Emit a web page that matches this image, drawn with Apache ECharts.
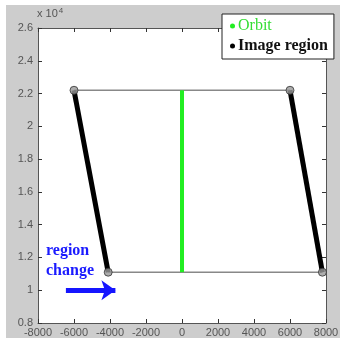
<!DOCTYPE html>
<html>
<head>
<meta charset="utf-8">
<script src="https://cdn.jsdelivr.net/npm/echarts@6/dist/echarts.min.js"></script>
<style>
  html, body { margin: 0; padding: 0; background: #fff; }
  #chart { width: 345px; height: 342px; }
</style>
</head>
<body>
<div id="chart"></div>
<script>
var myChart = echarts.init(document.getElementById('chart'));

// data
var orbit = [[0, 22200], [0, 11100]];
var imgLeft = [[-6000, 22200], [-4100, 11100]];
var imgRight = [[6000, 22200], [7800, 11100]];
var topEdge = [[-6000, 22200], [6000, 22200]];
var bottomEdge = [[-4100, 11100], [7800, 11100]];
var corners = [[-6000, 22200], [6000, 22200], [-4100, 11100], [7800, 11100]];
var arrow = [[-6450, 10000], [-3700, 10000]];
var xTicks = [-8000, 8000, 2000];
var yTicks = [8000, 26000, 2000];

var tickColor = '#333';
var labelStyle = { color: '#555', fontSize: 11, fontFamily: 'Liberation Sans' };

function axisBase(range) {
    return {
        type: 'value',
        min: range[0], max: range[1], interval: range[2],
        axisLine: { show: true, onZero: false, lineStyle: { color: '#555', width: 1 } },
        // negative length points the ticks into the plot
        axisTick: { show: true, inside: false, length: -4, lineStyle: { color: tickColor, width: 1 } },
        splitLine: { show: false }
    };
}

var xBottom = axisBase(xTicks);
xBottom.axisLabel = Object.assign({ margin: 4, formatter: function (v) { return String(v); } }, labelStyle);
var xTop = axisBase(xTicks);
xTop.position = 'top';
xTop.axisLabel = { show: false };
var yLeft = axisBase(yTicks);
yLeft.axisLabel = Object.assign({
    margin: 5,
    formatter: function (v) { return String(Math.round(v / 1000) / 10); }
}, labelStyle);
var yRight = axisBase(yTicks);
yRight.position = 'right';
yRight.axisLabel = { show: false };

var frameGray = '#cdcdcd';

option = {
    backgroundColor: '#fff',
    animation: false,
    grid: { left: 38, right: 19, top: 28, bottom: 19 },
    xAxis: [xBottom, xTop],
    yAxis: [yLeft, yRight],
    legend: {
        orient: 'vertical',
        left: 222, top: 14,
        width: 115,
        backgroundColor: '#fff',
        borderColor: '#222',
        borderWidth: 1,
        borderRadius: 0,
        padding: [4, 6, 5, 8],
        itemGap: 4,
        itemWidth: 5, itemHeight: 5,
        icon: 'circle',
        z: 20,
        data: [
            { name: 'Orbit', textStyle: { color: '#33dd33' } },
            { name: 'Image region', textStyle: { color: '#111', fontWeight: 'bold' } }
        ],
        textStyle: { fontFamily: 'Liberation Serif', fontSize: 16, padding: [0, 0, 0, -2] }
    },
    graphic: [
        // gray figure frame around the white plot area
        { type: 'rect', z: -10, shape: { x: 6, y: 5, width: 334, height: 23 }, style: { fill: frameGray } },
        { type: 'rect', z: -10, shape: { x: 6, y: 323, width: 334, height: 15 }, style: { fill: frameGray } },
        { type: 'rect', z: -10, shape: { x: 6, y: 28, width: 32, height: 295 }, style: { fill: frameGray } },
        { type: 'rect', z: -10, shape: { x: 326, y: 28, width: 14, height: 295 }, style: { fill: frameGray } },
        {
            type: 'text', left: 37, top: 7,
            style: {
                text: '{a|x 10}{b|4}',
                rich: {
                    a: { fontSize: 11, fill: '#555', fontFamily: 'Liberation Sans' },
                    b: { fontSize: 8, fill: '#555', fontFamily: 'Liberation Sans', verticalAlign: 'top', padding: [0, 0, 6, 1] }
                }
            }
        },
        {
            type: 'text', left: 46, top: 241,
            style: {
                text: 'region\nchange',
                fill: '#1a1aff',
                font: 'bold 16px "Liberation Serif"',
                lineHeight: 20
            }
        }
    ],
    series: [
        { type: 'line', data: topEdge, symbol: 'none', lineStyle: { color: '#888', width: 1.5 }, z: 1 },
        { type: 'line', data: bottomEdge, symbol: 'none', lineStyle: { color: '#888', width: 1.5 }, z: 1 },
        { name: 'Orbit', type: 'line', data: orbit, symbol: 'none', color: '#22ee22', lineStyle: { color: '#22ee22', width: 4 }, z: 2 },
        { name: 'Image region', type: 'line', data: imgLeft, symbol: 'none', color: '#000', lineStyle: { color: '#000', width: 5 }, z: 3 },
        { name: 'Image region', type: 'line', data: imgRight, symbol: 'none', color: '#000', lineStyle: { color: '#000', width: 5 }, z: 3 },
        {
            type: 'scatter', data: corners, symbol: 'circle', symbolSize: 8,
            itemStyle: { color: '#999', borderColor: '#333', borderWidth: 1 }, z: 4
        },
        {
            type: 'line', data: [], z: 5,
            markLine: {
                silent: true,
                symbol: ['none', 'arrow'],
                symbolSize: [15, 14],
                label: { show: false },
                lineStyle: { color: '#1515ff', width: 5, type: 'solid' },
                data: [[{ coord: arrow[0] }, { coord: arrow[1] }]]
            }
        }
    ]
};

myChart.setOption(option);
</script>
</body>
</html>
